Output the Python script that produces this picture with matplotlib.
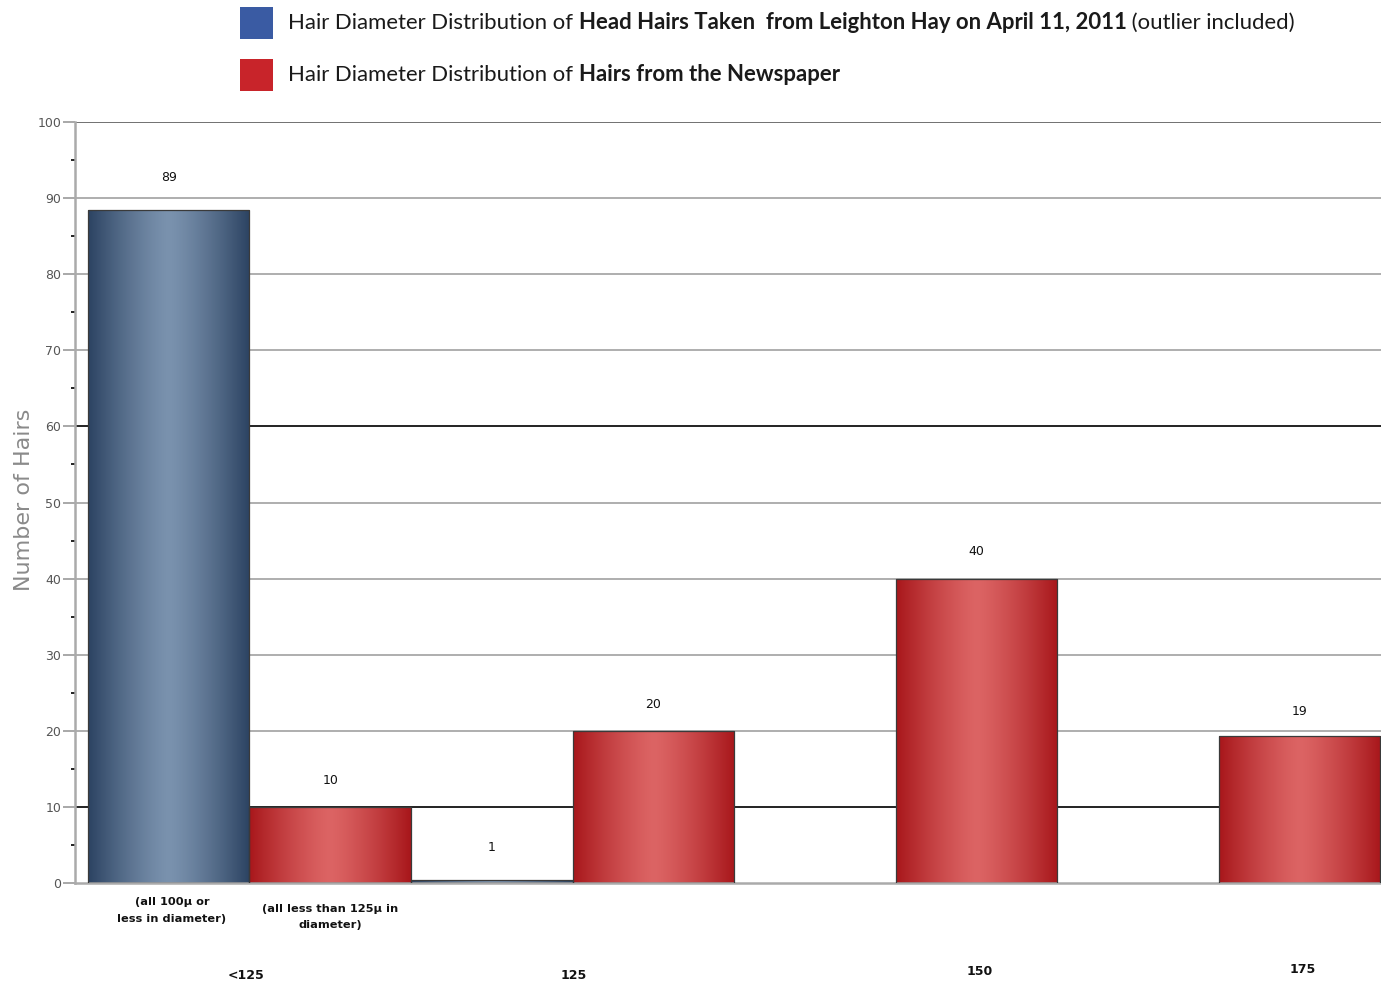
import numpy as np
import matplotlib.pyplot as plt
from matplotlib.colors import LinearSegmentedColormap
from matplotlib.patches import Rectangle

groups = ['<125', '125', '150', '175']
head_hairs = [88.5, 0.4, 0, 0]          # bar heights as drawn
head_labels = ['89', '1', '', '']
paper_hairs = [10, 20, 40, 19.3]
paper_labels = ['10', '20', '40', '19']
notes = ['(all 100\u00b5 or\nless in diameter)', '(all less than 125\u00b5 in\ndiameter)']

legend_head = [('Hair Diameter Distribution of ', 'normal'),
               ('Head Hairs Taken  from Leighton Hay on April 11, 2011', 'bold'),
               (' (outlier included)', 'normal')]
legend_paper = [('Hair Diameter Distribution of ', 'normal'),
                ('Hairs from the Newspaper', 'bold')]

W, H = 1381, 984
fig = plt.figure(figsize=(W / 100, H / 100), dpi=100)
ax = fig.add_axes([75 / W, 101 / H, 1 - 75 / W, 761 / H])

blue_cmap = LinearSegmentedColormap.from_list('b', ['#2c4362', '#7a92ae'])
red_cmap = LinearSegmentedColormap.from_list('r', ['#a8171b', '#dc6464'])

t = np.linspace(0, 1, 200)
grad = (1 - np.abs(2 * t - 1) ** 1.3)[None, :]


def gradient_bars(xs, heights, cmap):
    bars = ax.bar(xs, heights, width=1, align='edge', color='none',
                  edgecolor='#3a3a3a', linewidth=0.9, zorder=3)
    for b, h in zip(bars, heights):
        if h <= 0:
            b.set_visible(False)
            continue
        x0 = b.get_x()
        im = ax.imshow(grad, extent=[x0, x0 + 1, 0, h], aspect='auto',
                       cmap=cmap, vmin=0, vmax=1, zorder=2, interpolation='bilinear')
        im.set_clip_path(b)
    return bars


gx = np.arange(len(groups)) * 2
gradient_bars(gx, head_hairs, blue_cmap)
gradient_bars(gx + 1, paper_hairs, red_cmap)

# value labels
for x, lab in zip(gx, head_labels):
    if lab:
        ax.text(x + 0.5, float(lab) + 3.7, lab, ha='center', va='center', fontsize=9, color='#111')
for x, lab in zip(gx + 1, paper_labels):
    ax.text(x + 0.5, float(lab) + 3.5, lab, ha='center', va='center', fontsize=9, color='#111')

# gridlines
for v in range(10, 101, 10):
    col = '#111111' if v in (10, 60) else ('#666666' if v == 100 else '#a8a8a8')
    ax.axhline(v, color=col, linewidth=1.3, zorder=1)

ax.set_xlim(-0.08, 8.005)
ax.set_ylim(0, 100)

for sp in ['top', 'right']:
    ax.spines[sp].set_visible(False)
ax.spines['left'].set_color('#aaaaaa')
ax.spines['left'].set_linewidth(1.8)
ax.spines['bottom'].set_color('#aaaaaa')
ax.spines['bottom'].set_linewidth(1.8)

ax.set_yticks(range(0, 101, 10))
ax.set_yticks(range(5, 100, 10), minor=True)
ax.tick_params(axis='y', which='major', length=9, width=1.2, color='#999999',
               labelsize=9, labelcolor='#555555', pad=1)
ax.tick_params(axis='y', which='minor', length=3, width=1.4, color='#222222')
ax.set_xticks([])

# category labels under the axis
tick_x = [0.98, 3.01, 5.52, 7.52]
tick_y = [-12.1, -12.1, -11.6, -11.4]
for x, y, g in zip(tick_x, tick_y, groups):
    ax.text(x, y, g, ha='center', va='center', fontsize=9, fontweight='bold',
            color='#111', clip_on=False)

for x, y, n in zip([0.52, 1.5], [-1.9, -2.7], notes):
    ax.text(x, y, n, ha='center', va='top', fontsize=8.2, fontweight='bold',
            color='#111', linespacing=1.85, clip_on=False)

fig.text(24 / W, 1 - 500 / H, 'Number of Hairs', rotation=90, ha='center', va='center',
         fontsize=16, color='#8a8a8a')

# legend: coloured squares and mixed-weight text pieces chained one after another
for y, col, parts in [(23, '#3a5ba3', legend_head), (75, '#c8242a', legend_paper)]:
    fig.add_artist(Rectangle((240 / W, 1 - (y + 16) / H), 33 / W, 32 / H,
                             transform=fig.transFigure, facecolor=col, edgecolor='none'))
    prev = fig.text(288 / W, 1 - y / H, parts[0][0], ha='left', va='center',
                    fontsize=15.9, family='Lato', fontweight=parts[0][1], color='#1a1a1a')
    for s, w in parts[1:]:
        prev = ax.annotate(s, xy=(1, 0), xycoords=prev, ha='left', va='bottom',
                           fontsize=15.9, family='Lato', fontweight=w, color='#1a1a1a',
                           annotation_clip=False)

fig.savefig('out.png', dpi=100)
